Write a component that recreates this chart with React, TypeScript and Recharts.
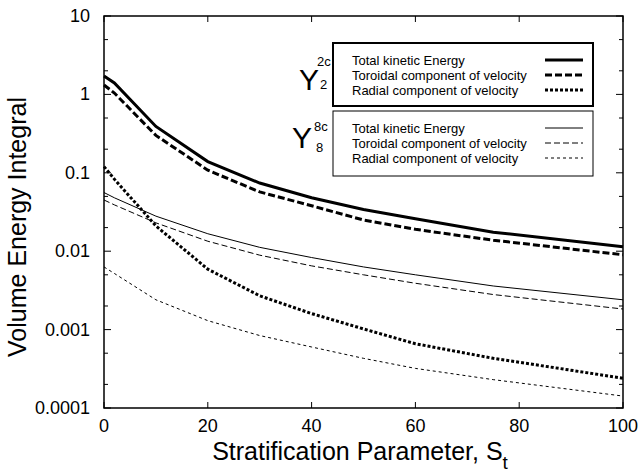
import React from 'react';
import { LineChart, Line, XAxis, YAxis, ReferenceArea } from 'recharts';

// ─── Data ─────────────────────────────────────────────────────────────────────
const stratification = [0, 2, 10, 20, 30, 40, 50, 60, 75, 100];

// Y_2^2c mode
const y2Total = [1.72, 1.4, 0.39, 0.139, 0.074, 0.048, 0.034, 0.026, 0.0175, 0.0114];
const y2Toroidal = [1.32, 1.04, 0.3, 0.108, 0.057, 0.038, 0.025, 0.019, 0.0138, 0.009];
const y2Radial = [0.12, 0.083, 0.021, 0.0059, 0.0027, 0.0016, 0.00102, 0.00066, 0.00043, 0.00024];

// Y_8^8c mode
const y8Total = [0.056, 0.048, 0.028, 0.0167, 0.0112, 0.0083, 0.0063, 0.005, 0.0036, 0.0024];
const y8Toroidal = [0.045, 0.039, 0.023, 0.0134, 0.0089, 0.0065, 0.005, 0.0039, 0.0028, 0.00183];
const y8Radial = [0.0063, 0.0052, 0.0024, 0.0013, 0.00084, 0.0006, 0.00043, 0.00032, 0.00023, 0.000142];

const xTicks = [0, 20, 40, 60, 80, 100];
const yTicks = [
  0.0001, 0.0002, 0.0005, 0.001, 0.002, 0.005, 0.01, 0.02, 0.05,
  0.1, 0.2, 0.5, 1, 2, 5, 10,
];
const legendNames = [
  'Total kinetic Energy',
  'Toroidal component of velocity',
  'Radial component of velocity',
];

const data = stratification.map((s, i) => ({
  s,
  y2Total: y2Total[i],
  y2Toroidal: y2Toroidal[i],
  y2Radial: y2Radial[i],
  y8Total: y8Total[i],
  y8Toroidal: y8Toroidal[i],
  y8Radial: y8Radial[i],
}));

// ─── Styles ───────────────────────────────────────────────────────────────────
const FONT = '"Liberation Sans", Arial, Helvetica, sans-serif';
const W = 640;
const H = 475;
const PLOT_L = 104;
const PLOT_R = 623;
const PLOT_T = 16;
const PLOT_B = 408;

const series = [
  { key: 'y2Total', width: 3, dash: undefined },
  { key: 'y2Toroidal', width: 3, dash: '7 3' },
  { key: 'y2Radial', width: 3, dash: '3 2' },
  { key: 'y8Total', width: 1, dash: undefined },
  { key: 'y8Toroidal', width: 1, dash: '6 3' },
  { key: 'y8Radial', width: 1, dash: '3 3' },
];

const isDecade = (v: number) => {
  const l = Math.log10(v);
  return Math.abs(l - Math.round(l)) < 1e-6;
};

// ─── Ticks (inward, mirrored on the opposite side) ─────────────────────────────
const YTick = ({ y, payload }: any) => {
  const v = payload.value as number;
  const major = isDecade(v);
  const len = major ? 7 : 4;
  return (
    <g>
      <line x1={PLOT_L} x2={PLOT_L + len} y1={y} y2={y} stroke="#000" strokeWidth={1} />
      <line x1={PLOT_R} x2={PLOT_R - len} y1={y} y2={y} stroke="#000" strokeWidth={1} />
      {major && (
        <text x={90} y={y + 6} textAnchor="end" fontSize={18} fontFamily={FONT} fill="#000">
          {String(v)}
        </text>
      )}
    </g>
  );
};

const XTick = ({ x, payload }: any) => (
  <g>
    <line x1={x} x2={x} y1={PLOT_B} y2={PLOT_B - 6} stroke="#000" strokeWidth={1} />
    <line x1={x} x2={x} y1={PLOT_T} y2={PLOT_T + 6} stroke="#000" strokeWidth={1} />
    <text x={x} y={PLOT_B + 24} textAnchor="middle" fontSize={18} fontFamily={FONT} fill="#000">
      {String(payload.value)}
    </text>
  </g>
);

// ─── Legend boxes & titles overlay ─────────────────────────────────────────────
const LegendBox = ({ top, thick, keys }: { top: number; thick: boolean; keys: string[] }) => (
  <g>
    <rect
      x={333}
      y={top}
      width={260}
      height={thick ? 63 : 65}
      fill="#fff"
      stroke="#000"
      strokeWidth={thick ? 2 : 1}
    />
    {keys.map((k, i) => {
      const s = series.find(d => d.key === k)!;
      const base = top + 22 + i * 15;
      return (
        <g key={k}>
          <text x={352} y={base} fontSize={13} fontFamily={FONT} fill="#000">
            {legendNames[i]}
          </text>
          <line
            x1={545}
            x2={583}
            y1={base - 5}
            y2={base - 5}
            stroke="#000"
            strokeWidth={s.width}
            strokeDasharray={s.dash}
          />
        </g>
      );
    })}
  </g>
);

const Overlay = () => (
  <svg width={W} height={H} style={{ position: 'absolute', left: 0, top: 0, pointerEvents: 'none' }}>
    {/* mode labels */}
    <text x={299} y={90} fontSize={30} fontFamily={FONT} fill="#000">Y</text>
    <text x={317} y={66} fontSize={13} fontFamily={FONT} fill="#000">2c</text>
    <text x={320} y={89} fontSize={13} fontFamily={FONT} fill="#000">2</text>
    <text x={292} y={148} fontSize={30} fontFamily={FONT} fill="#000">Y</text>
    <text x={314} y={131} fontSize={13} fontFamily={FONT} fill="#000">8c</text>
    <text x={316} y={152} fontSize={13} fontFamily={FONT} fill="#000">8</text>

    <LegendBox top={43} thick keys={['y2Total', 'y2Toroidal', 'y2Radial']} />
    <LegendBox top={111} thick={false} keys={['y8Total', 'y8Toroidal', 'y8Radial']} />

    {/* axis titles */}
    <text
      x={26}
      y={227}
      transform="rotate(-90 26 227)"
      textAnchor="middle"
      fontSize={25}
      fontFamily={FONT}
      fill="#000"
    >
      Volume Energy Integral
    </text>
    <text x={360} y={460} textAnchor="middle" fontSize={25} fontFamily={FONT} fill="#000">
      Stratification Parameter, S
      <tspan fontSize={19} dy={9}>t</tspan>
    </text>
  </svg>
);

export default function App() {
  return (
    <div style={{ position: 'absolute', left: 0, top: 0, width: W, height: H, background: '#fff' }}>
      <LineChart
        width={W}
        height={H}
        data={data}
        margin={{ top: PLOT_T, right: W - PLOT_R, left: 0, bottom: 0 }}
      >
        <XAxis
          dataKey="s"
          type="number"
          domain={[0, 100]}
          ticks={xTicks}
          interval={0}
          height={H - PLOT_B}
          axisLine={false}
          tickLine={false}
          tick={<XTick />}
        />
        <YAxis
          type="number"
          scale="log"
          domain={[0.0001, 10]}
          allowDataOverflow
          ticks={yTicks}
          interval={0}
          width={PLOT_L}
          axisLine={false}
          tickLine={false}
          tick={<YTick />}
        />
        <ReferenceArea
          x1={0}
          x2={100}
          y1={0.0001}
          y2={10}
          fill="none"
          fillOpacity={0}
          stroke="#000"
          strokeWidth={1.5}
          strokeOpacity={1}
        />
        {series.map(s => (
          <Line
            key={s.key}
            dataKey={s.key}
            type="linear"
            stroke="#000"
            strokeWidth={s.width}
            strokeDasharray={s.dash}
            dot={false}
            activeDot={false}
            isAnimationActive={false}
          />
        ))}
      </LineChart>
      <Overlay />
    </div>
  );
}
